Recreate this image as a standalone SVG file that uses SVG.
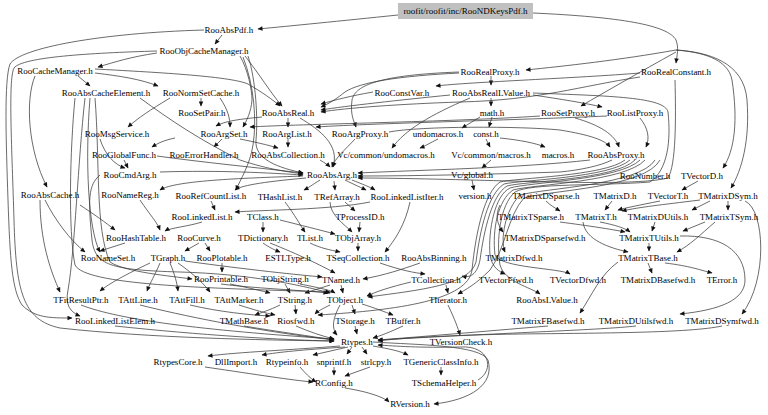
<svg xmlns="http://www.w3.org/2000/svg" width="768" height="415" viewBox="0 0 768 415">
<defs>
<marker id="a" viewBox="0 0 10 10" refX="9" refY="5" markerUnits="userSpaceOnUse" markerWidth="6" markerHeight="5" orient="auto"><path d="M0,0.5 L10,5 L0,9.5 z" fill="#111"/></marker>
<style>
text{font-family:"Liberation Serif","Times New Roman",serif;font-size:9px;text-anchor:middle;fill:#000}
.e path{fill:none;stroke:#3a3a3a;stroke-width:0.75;marker-end:url(#a)}
</style>
</defs>
<rect width="768" height="415" fill="#fff"/>
<g class="e" id="edges">
<path d="M398,15 C340,21 290,26 258,29"/>
<path d="M533,13 C620,17 668,25 676,40 C679,48 677,55 676,63"/>
<path d="M676,50 C620,60 565,66 526,70"/>
<path d="M676,52 C640,72 605,92 581,106"/>
<path d="M676,50 C700,52 728,58 732,80 C738,120 735,150 723,168"/>
<path d="M676,50 C708,52 744,62 747,100 C750,140 742,170 731,188"/>
<path d="M222,35 L215,44"/>
<path d="M204,30 C100,33 20,48 10,64 C4,80 6,140 8,200 C10,260 12,290 22,305 C35,318 50,318 72,318"/>
<path d="M157,53 C130,57 115,62 98,67"/>
<path d="M157,51 C90,53 22,57 14,68 C8,80 12,150 14,220 C16,290 22,320 60,328 C150,338 260,340 334,341"/>
<path d="M78,76 L90,86"/>
<path d="M95,73 C120,76 140,79 158,86"/>
<path d="M95,69 C150,72 230,76 248,84 C262,92 273,100 280,106"/>
<path d="M35,76 C25,100 28,150 47,187"/>
<path d="M240,56 C248,70 252,90 252,100 C251,112 247,120 243,127"/>
<path d="M245,56 C260,75 270,92 282,106"/>
<path d="M248,56 C256,80 258,120 256,140 C254,160 280,168 303,173"/>
<path d="M243,57 C254,85 257,120 253,145 C250,165 240,180 236,190"/>
<path d="M201,98 L201,106"/>
<path d="M170,98 C150,110 138,118 128,127"/>
<path d="M220,98 C228,110 230,118 230,127"/>
<path d="M459,72 C380,75 355,85 352,100 C350,115 354,121 356,127"/>
<path d="M491,76 L491,85"/>
<path d="M640,73 C580,78 470,82 436,86"/>
<path d="M373,92 C350,96 335,100 321,104"/>
<path d="M459,73 C400,76 360,82 345,92 C335,100 328,104 321,107"/>
<path d="M450,95 C400,100 345,106 321,110"/>
<path d="M640,77 C580,86 540,100 460,102 C400,104 345,108 321,112"/>
<path d="M491,98 L491,106"/>
<path d="M533,95 C560,99 585,103 602,107"/>
<path d="M470,98 C430,115 405,130 392,148"/>
<path d="M533,93 C610,96 665,97 668,112 C671,140 668,170 650,182 C600,186 530,183 515,192 C500,205 496,240 500,265 C505,282 530,287 540,294"/>
<path d="M288,118 L288,127"/>
<path d="M262,117 C240,119 225,121 216,126"/>
<path d="M540,116 C450,122 300,124 250,127"/>
<path d="M607,116 C520,120 380,123 316,127"/>
<path d="M480,117 L462,128"/>
<path d="M492,117 L489,127"/>
<path d="M575,118 C600,125 615,135 619,147"/>
<path d="M640,118 C648,128 650,138 646,147"/>
<path d="M222,139 L214,147"/>
<path d="M288,139 L288,147"/>
<path d="M240,139 C255,142 268,145 278,148"/>
<path d="M486,139 L490,147"/>
<path d="M500,138 C520,140 535,143 545,147"/>
<path d="M438,139 C430,143 425,146 420,148"/>
<path d="M355,139 C345,150 335,158 332,167"/>
<path d="M300,118 C320,130 340,145 333,167"/>
<path d="M175,138 C165,140 158,143 152,147"/>
<path d="M100,139 C105,155 115,165 125,168"/>
<path d="M389,132 C420,126 520,126 560,130 C590,135 605,140 610,147"/>
<path d="M491,160 L482,168"/>
<path d="M590,160 C520,168 420,170 358,173"/>
<path d="M612,160 C600,166 580,170 560,172 C500,174 420,176 358,176"/>
<path d="M675,80 C676,120 676,165 668,178 C640,185 560,182 510,181 C470,180 400,178 358,178"/>
<path d="M320,160 C325,163 328,165 330,167"/>
<path d="M157,156 C200,162 260,168 303,173"/>
<path d="M160,172 C220,170 270,173 303,175"/>
<path d="M124,160 L128,168"/>
<path d="M140,98 C170,120 200,140 240,160 C270,170 290,172 303,174"/>
<path d="M320,180 C312,185 308,188 304,190"/>
<path d="M334,181 L335,190"/>
<path d="M345,180 C355,185 362,188 366,190"/>
<path d="M352,180 C362,184 370,187 375,190"/>
<path d="M306,178 C260,182 240,186 235,190"/>
<path d="M303,176 C250,178 175,180 160,190"/>
<path d="M472,180 L474,190"/>
<path d="M698,181 L682,190"/>
<path d="M211,201 L215,210"/>
<path d="M285,202 C295,215 300,225 305,232"/>
<path d="M345,202 L355,211"/>
<path d="M330,202 C330,215 345,225 352,232"/>
<path d="M410,202 C405,225 395,240 385,252"/>
<path d="M370,202 C330,210 260,210 235,212"/>
<path d="M263,222 L263,232"/>
<path d="M360,222 L359,232"/>
<path d="M280,220 C300,225 320,230 335,234"/>
<path d="M546,201 C550,205 555,208 560,211"/>
<path d="M612,201 L605,210"/>
<path d="M700,200 C660,205 640,207 622,211"/>
<path d="M710,201 L692,210"/>
<path d="M728,201 L728,210"/>
<path d="M660,201 C640,205 625,208 618,210"/>
<path d="M745,201 C765,210 768,280 742,314"/>
<path d="M583,222 C585,240 610,248 628,252"/>
<path d="M600,222 C615,225 625,228 630,232"/>
<path d="M560,222 C590,226 610,229 625,232"/>
<path d="M655,222 L652,231"/>
<path d="M705,222 L683,231"/>
<path d="M715,222 C700,235 690,245 677,252"/>
<path d="M680,236 C720,235 745,250 745,280 C745,300 720,310 680,314"/>
<path d="M202,222 C190,226 170,228 165,231"/>
<path d="M140,200 C150,215 157,222 160,230"/>
<path d="M80,205 C95,215 105,222 115,230"/>
<path d="M649,243 L649,251"/>
<path d="M310,243 C320,248 330,250 340,252"/>
<path d="M358,243 L358,251"/>
<path d="M199,243 L185,251"/>
<path d="M205,243 L210,251"/>
<path d="M263,243 C270,248 275,250 280,252"/>
<path d="M270,243 C300,255 320,265 335,273"/>
<path d="M125,243 L100,251"/>
<path d="M222,263 L222,272"/>
<path d="M160,263 C155,275 150,283 147,291"/>
<path d="M170,263 C175,275 177,283 178,291"/>
<path d="M178,263 C195,275 205,285 210,292"/>
<path d="M150,263 C125,275 110,283 100,291"/>
<path d="M185,261 C250,270 300,275 322,277"/>
<path d="M380,263 C400,270 415,273 425,274"/>
<path d="M648,263 L652,273"/>
<path d="M665,263 C690,266 700,270 712,273"/>
<path d="M618,262 C600,275 592,295 580,313"/>
<path d="M420,263 C400,270 385,275 363,279"/>
<path d="M341,285 L343,293"/>
<path d="M330,285 L305,293"/>
<path d="M285,284 L290,293"/>
<path d="M300,284 C320,288 330,290 335,293"/>
<path d="M411,282 C390,287 375,292 367,296"/>
<path d="M446,285 L448,293"/>
<path d="M221,284 C250,288 300,290 328,293"/>
<path d="M230,284 C250,288 262,291 270,293"/>
<path d="M295,305 L296,314"/>
<path d="M280,305 C270,310 260,313 255,315"/>
<path d="M340,305 C333,318 331,328 337,335"/>
<path d="M330,305 C322,309 318,311 315,314"/>
<path d="M352,305 L355,314"/>
<path d="M362,304 C375,308 385,312 393,315"/>
<path d="M448,305 C455,320 458,328 460,335"/>
<path d="M140,305 C180,315 250,330 334,340"/>
<path d="M190,305 C220,312 250,315 270,316"/>
<path d="M239,305 C255,310 265,313 275,315"/>
<path d="M81,305 C120,320 200,330 334,339"/>
<path d="M115,326 C200,335 280,340 334,341"/>
<path d="M244,326 C280,332 310,336 334,340"/>
<path d="M296,326 C310,332 322,336 334,339"/>
<path d="M355,326 L357,334"/>
<path d="M403,326 C390,332 380,336 373,338"/>
<path d="M722,326 C690,333 600,333 520,334 C450,335 400,338 378,341"/>
<path d="M636,326 C600,330 520,332 378,340"/>
<path d="M548,326 C500,330 430,336 378,340"/>
<path d="M640,160 C620,180 530,182 510,188 C495,195 488,230 490,255 C492,268 500,272 505,274"/>
<path d="M645,160 C625,182 535,184 513,190 C498,200 492,230 495,255 C500,268 560,268 570,274"/>
<path d="M635,160 C615,180 525,181 507,186 C492,195 484,230 480,260 C477,275 470,278 462,276"/>
<path d="M630,160 C610,178 520,180 504,184 C488,194 480,230 476,262 C470,285 420,290 368,297"/>
<path d="M655,160 C640,185 545,188 520,195 C505,210 500,240 505,252"/>
<path d="M625,160 C605,176 515,178 500,182 C485,192 476,230 472,270 C468,300 400,310 318,315"/>
<path d="M660,160 C645,188 550,190 524,198 C508,215 505,250 490,270 C475,285 465,290 458,294"/>
<path d="M500,205 C495,215 497,224 503,232"/>
<path d="M85,98 C78,160 75,250 68,290 C65,305 70,312 80,316"/>
<path d="M90,98 C85,160 88,230 100,252"/>
<path d="M75,98 C70,150 68,230 75,265 C85,285 200,288 330,292"/>
<path d="M95,98 C100,160 95,230 110,262 C125,272 170,276 192,279"/>
<path d="M100,175 C88,185 88,200 92,240 C95,265 110,270 180,272 C250,274 300,285 330,293"/>
<path d="M45,200 C55,220 70,240 85,252"/>
<path d="M40,200 C40,240 50,270 60,292"/>
<path d="M340,346 C290,350 240,352 208,356"/>
<path d="M345,347 C300,350 280,352 262,355"/>
<path d="M348,347 L313,355"/>
<path d="M352,347 L347,354"/>
<path d="M362,347 L367,354"/>
<path d="M373,346 C390,349 400,351 408,355"/>
<path d="M441,367 L441,375"/>
<path d="M478,380 C495,370 490,345 460,347 C420,348 395,346 378,345"/>
<path d="M300,367 C305,373 310,378 316,382"/>
<path d="M334,367 L334,375"/>
<path d="M370,367 L345,376"/>
<path d="M345,388 C370,392 385,398 389,402"/>
<path d="M373,342 C420,345 480,345 488,360 C495,385 470,400 434,404"/>
<path d="M205,367 C260,375 290,380 313,382"/>
</g>
<g id="n_root"><rect x="398" y="3" width="135" height="16" fill="#c0c0c0"/><text x="465.5" y="14">roofit/roofit/inc/RooNDKeysPdf.h</text></g>
<g id="n_RooAbsPdf"><text x="229" y="33">RooAbsPdf.h</text></g>
<g id="n_RooObjCacheManager"><text x="204" y="54">RooObjCacheManager.h</text></g>
<g id="n_RooCacheManager"><text x="55" y="74">RooCacheManager.h</text></g>
<g id="n_RooRealProxy"><text x="490" y="75">RooRealProxy.h</text></g>
<g id="n_RooRealConstant"><text x="676" y="75">RooRealConstant.h</text></g>
<g id="n_RooAbsCacheElement"><text x="106" y="96">RooAbsCacheElement.h</text></g>
<g id="n_RooNormSetCache"><text x="201" y="96">RooNormSetCache.h</text></g>
<g id="n_RooConstVar"><text x="402" y="96">RooConstVar.h</text></g>
<g id="n_RooAbsRealLValue"><text x="491" y="96">RooAbsRealLValue.h</text></g>
<g id="n_RooSetPair"><text x="202" y="116">RooSetPair.h</text></g>
<g id="n_RooAbsReal"><text x="288" y="116">RooAbsReal.h</text></g>
<g id="n_math"><text x="492" y="116">math.h</text></g>
<g id="n_RooSetProxy"><text x="568" y="116">RooSetProxy.h</text></g>
<g id="n_RooListProxy"><text x="635" y="116">RooListProxy.h</text></g>
<g id="n_RooMsgService"><text x="117" y="137">RooMsgService.h</text></g>
<g id="n_RooArgSet"><text x="224" y="137">RooArgSet.h</text></g>
<g id="n_RooArgList"><text x="287" y="137">RooArgList.h</text></g>
<g id="n_RooArgProxy"><text x="360" y="137">RooArgProxy.h</text></g>
<g id="n_undomacros"><text x="438" y="137">undomacros.h</text></g>
<g id="n_const"><text x="486" y="137">const.h</text></g>
<g id="n_RooGlobalFunc"><text x="124" y="158">RooGlobalFunc.h</text></g>
<g id="n_RooErrorHandler"><text x="204" y="158">RooErrorHandler.h</text></g>
<g id="n_RooAbsCollection"><text x="288" y="158">RooAbsCollection.h</text></g>
<g id="n_VcUndomacros"><text x="386" y="158">Vc/common/undomacros.h</text></g>
<g id="n_VcMacros"><text x="491" y="158">Vc/common/macros.h</text></g>
<g id="n_macros"><text x="558" y="158">macros.h</text></g>
<g id="n_RooAbsProxy"><text x="616" y="158">RooAbsProxy.h</text></g>
<g id="n_RooCmdArg"><text x="130" y="178">RooCmdArg.h</text></g>
<g id="n_RooAbsArg"><text x="332" y="178">RooAbsArg.h</text></g>
<g id="n_VcGlobal"><text x="472" y="178">Vc/global.h</text></g>
<g id="n_RooNumber"><text x="645" y="179">RooNumber.h</text></g>
<g id="n_TVectorD"><text x="702" y="179">TVectorD.h</text></g>
<g id="n_RooAbsCache"><text x="50" y="198">RooAbsCache.h</text></g>
<g id="n_RooNameReg"><text x="130" y="198">RooNameReg.h</text></g>
<g id="n_RooRefCountList"><text x="211" y="199">RooRefCountList.h</text></g>
<g id="n_THashList"><text x="280" y="200">THashList.h</text></g>
<g id="n_TRefArray"><text x="337" y="200">TRefArray.h</text></g>
<g id="n_RooLinkedListIter"><text x="407" y="200">RooLinkedListIter.h</text></g>
<g id="n_version"><text x="475" y="199">version.h</text></g>
<g id="n_TMatrixDSparse"><text x="546" y="199">TMatrixDSparse.h</text></g>
<g id="n_TMatrixD"><text x="615" y="199">TMatrixD.h</text></g>
<g id="n_TVectorT"><text x="668" y="199">TVectorT.h</text></g>
<g id="n_TMatrixDSym"><text x="728" y="199">TMatrixDSym.h</text></g>
<g id="n_RooLinkedList"><text x="202" y="220">RooLinkedList.h</text></g>
<g id="n_TClass"><text x="263" y="220">TClass.h</text></g>
<g id="n_TProcessID"><text x="360" y="220">TProcessID.h</text></g>
<g id="n_TMatrixTSparse"><text x="531" y="220">TMatrixTSparse.h</text></g>
<g id="n_TMatrixT"><text x="596" y="220">TMatrixT.h</text></g>
<g id="n_TMatrixDUtils"><text x="658" y="220">TMatrixDUtils.h</text></g>
<g id="n_TMatrixTSym"><text x="729" y="220">TMatrixTSym.h</text></g>
<g id="n_RooHashTable"><text x="136" y="241">RooHashTable.h</text></g>
<g id="n_RooCurve"><text x="199" y="241">RooCurve.h</text></g>
<g id="n_TDictionary"><text x="263" y="241">TDictionary.h</text></g>
<g id="n_TList"><text x="310" y="241">TList.h</text></g>
<g id="n_TObjArray"><text x="358" y="241">TObjArray.h</text></g>
<g id="n_TMatrixDSparsefwd"><text x="545" y="241">TMatrixDSparsefwd.h</text></g>
<g id="n_TMatrixTUtils"><text x="649" y="241">TMatrixTUtils.h</text></g>
<g id="n_RooNameSet"><text x="108" y="261">RooNameSet.h</text></g>
<g id="n_TGraph"><text x="168" y="261">TGraph.h</text></g>
<g id="n_RooPlotable"><text x="222" y="261">RooPlotable.h</text></g>
<g id="n_ESTLType"><text x="288" y="261">ESTLType.h</text></g>
<g id="n_TSeqCollection"><text x="358" y="261">TSeqCollection.h</text></g>
<g id="n_RooAbsBinning"><text x="434" y="261">RooAbsBinning.h</text></g>
<g id="n_TMatrixDfwd"><text x="514" y="261">TMatrixDfwd.h</text></g>
<g id="n_TMatrixTBase"><text x="648" y="261">TMatrixTBase.h</text></g>
<g id="n_RooPrintable"><text x="221" y="282">RooPrintable.h</text></g>
<g id="n_TObjString"><text x="285" y="282">TObjString.h</text></g>
<g id="n_TNamed"><text x="341" y="283">TNamed.h</text></g>
<g id="n_TCollection"><text x="436" y="283">TCollection.h</text></g>
<g id="n_TVectorFfwd"><text x="506" y="283">TVectorFfwd.h</text></g>
<g id="n_TVectorDfwd"><text x="578" y="283">TVectorDfwd.h</text></g>
<g id="n_TMatrixDBasefwd"><text x="658" y="283">TMatrixDBasefwd.h</text></g>
<g id="n_TError"><text x="722" y="283">TError.h</text></g>
<g id="n_TFitResultPtr"><text x="81" y="303">TFitResultPtr.h</text></g>
<g id="n_TAttLine"><text x="138" y="303">TAttLine.h</text></g>
<g id="n_TAttFill"><text x="187" y="303">TAttFill.h</text></g>
<g id="n_TAttMarker"><text x="239" y="303">TAttMarker.h</text></g>
<g id="n_TString"><text x="295" y="303">TString.h</text></g>
<g id="n_TObject"><text x="345" y="303">TObject.h</text></g>
<g id="n_TIterator"><text x="448" y="303">TIterator.h</text></g>
<g id="n_RooAbsLValue"><text x="547" y="303">RooAbsLValue.h</text></g>
<g id="n_RooLinkedListElem"><text x="115" y="324">RooLinkedListElem.h</text></g>
<g id="n_TMathBase"><text x="244" y="324">TMathBase.h</text></g>
<g id="n_Riosfwd"><text x="296" y="324">Riosfwd.h</text></g>
<g id="n_TStorage"><text x="355" y="324">TStorage.h</text></g>
<g id="n_TBuffer"><text x="403" y="324">TBuffer.h</text></g>
<g id="n_TMatrixFBasefwd"><text x="548" y="324">TMatrixFBasefwd.h</text></g>
<g id="n_TMatrixDUtilsfwd"><text x="636" y="324">TMatrixDUtilsfwd.h</text></g>
<g id="n_TMatrixDSymfwd"><text x="722" y="324">TMatrixDSymfwd.h</text></g>
<g id="n_Rtypes"><text x="357" y="345">Rtypes.h</text></g>
<g id="n_TVersionCheck"><text x="461" y="345">TVersionCheck.h</text></g>
<g id="n_RtypesCore"><text x="178" y="365">RtypesCore.h</text></g>
<g id="n_DllImport"><text x="236" y="365">DllImport.h</text></g>
<g id="n_Rtypeinfo"><text x="287" y="365">Rtypeinfo.h</text></g>
<g id="n_snprintf"><text x="334" y="365">snprintf.h</text></g>
<g id="n_strlcpy"><text x="376" y="365">strlcpy.h</text></g>
<g id="n_TGenericClassInfo"><text x="441" y="365">TGenericClassInfo.h</text></g>
<g id="n_RConfig"><text x="334" y="386">RConfig.h</text></g>
<g id="n_TSchemaHelper"><text x="444" y="386">TSchemaHelper.h</text></g>
<g id="n_RVersion"><text x="410" y="407">RVersion.h</text></g>
</svg>
